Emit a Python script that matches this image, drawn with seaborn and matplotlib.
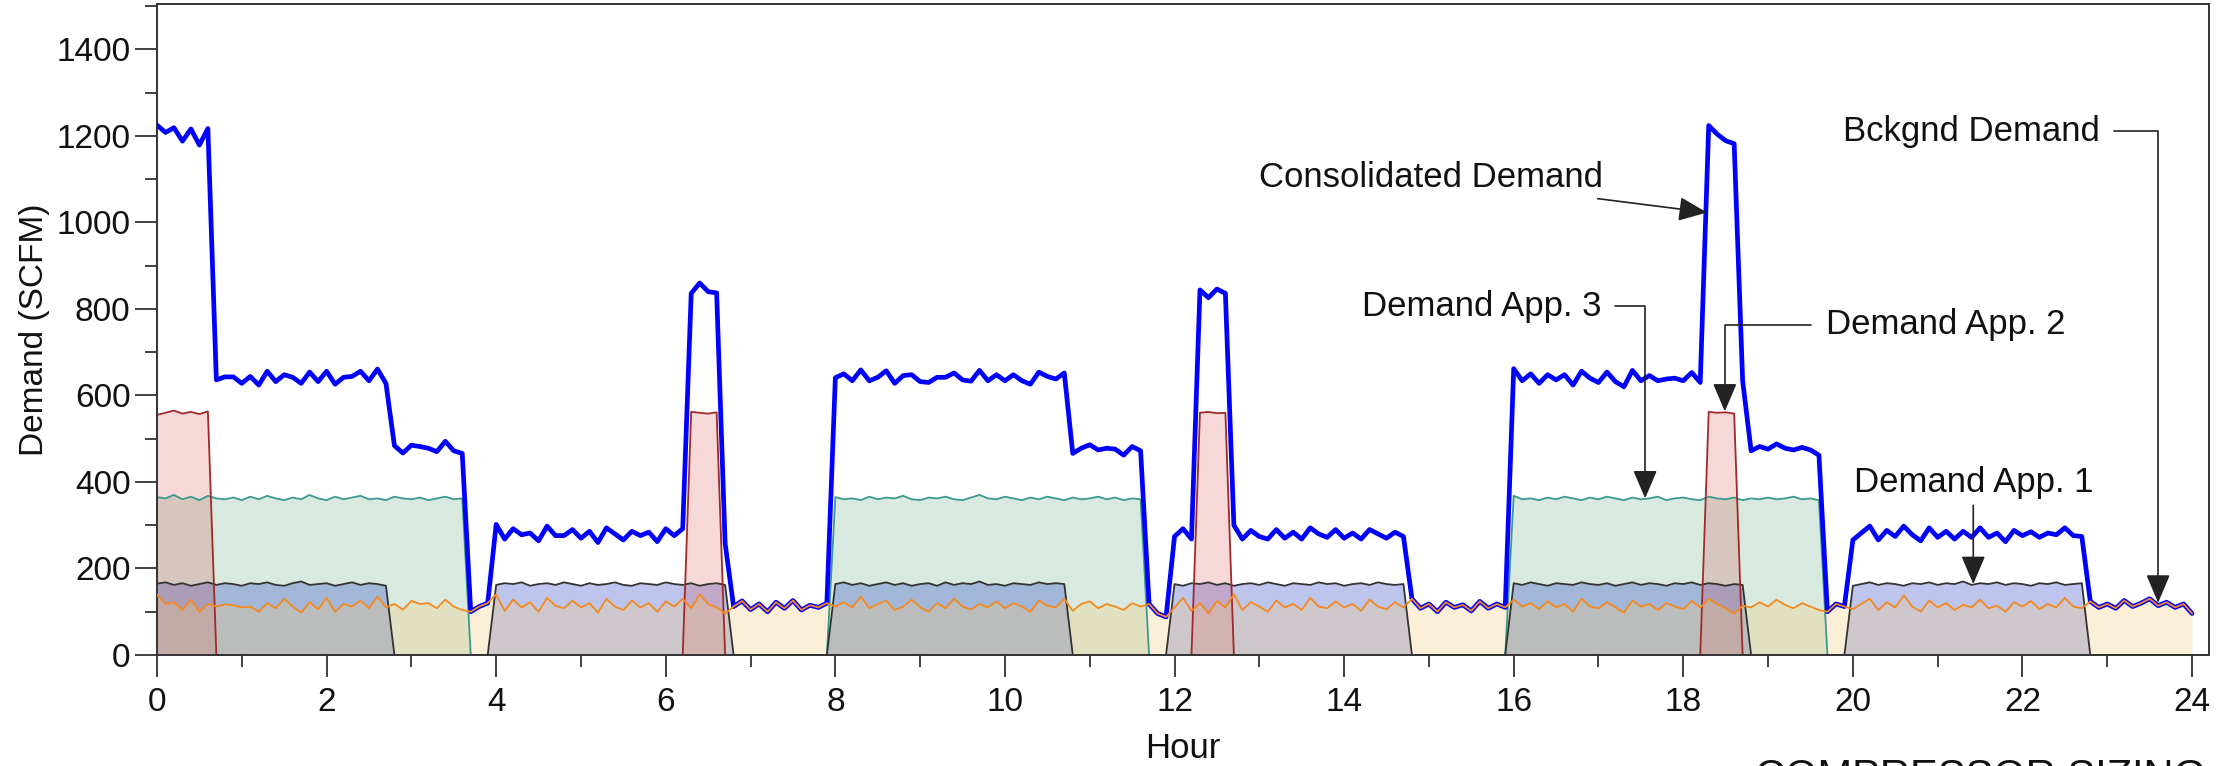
import numpy as np
import matplotlib
matplotlib.use("Agg")
import matplotlib.pyplot as plt
import seaborn as sns
from matplotlib.ticker import MultipleLocator

# ---------------- data (0.1 h sampling) ----------------
HOURS = np.round(np.arange(0, 24.05, 0.1), 1)

BCKGND = [
    140, 118, 122, 104, 128, 100, 118, 112, 117, 115,
    110, 112, 100, 120, 108, 130, 112, 98, 122, 106,
    132, 100, 118, 112, 126, 108, 135, 110, 118, 105,
    125, 118, 120, 108, 128, 112, 104, 100, 112, 120,
    140, 102, 128, 110, 122, 100, 132, 114, 108, 126,
    110, 120, 98, 130, 112, 104, 126, 110, 120, 100,
    124, 112, 130, 108, 140, 118, 110, 96, 112, 125,
    105, 118, 100, 122, 108, 126, 104, 115, 110, 120,
    112, 122, 110, 135, 108, 118, 125, 104, 112, 128,
    110, 100, 120, 108, 130, 112, 105, 118, 110, 124,
    108, 120, 112, 100, 126, 114, 110, 130, 102, 118,
    124, 108, 118, 112, 104, 120, 112, 118, 96, 88,
    110, 132, 102, 120, 96, 125, 110, 140, 104, 122,
    112, 100, 126, 110, 118, 104, 132, 112, 108, 124,
    110, 118, 102, 128, 112, 106, 122, 110, 130, 108,
    118, 100, 122, 110, 116, 102, 124, 108, 118, 110,
    128, 112, 120, 106, 124, 110, 118, 100, 130, 112,
    108, 122, 110, 98, 126, 112, 118, 104, 120, 112,
    106, 125, 110, 130, 118, 108, 96, 114, 110, 122,
    112, 128, 116, 108, 120, 112, 104, 100, 118, 112,
    106, 118, 130, 104, 122, 110, 138, 112, 100, 126,
    110, 120, 104, 116, 110, 128, 108, 114, 100, 122,
    112, 125, 106, 118, 110, 132, 112, 108, 124, 110,
    118, 108, 126, 112, 120, 130, 114, 122, 110, 118,
    96,
]

APP3 = [
    365, 362, 370, 360, 366, 358, 368, 362, 360, 364,
    358, 366, 360, 368, 362, 358, 364, 360, 370, 362,
    358, 366, 360, 364, 368, 360, 362, 358, 366, 362,
    360, 364, 358, 362, 366, 360, 362, 0, 0, 0,
    0, 0, 0, 0, 0, 0, 0, 0, 0, 0,
    0, 0, 0, 0, 0, 0, 0, 0, 0, 0,
    0, 0, 0, 0, 0, 0, 0, 0, 0, 0,
    0, 0, 0, 0, 0, 0, 0, 0, 0, 0,
    365, 360, 362, 358, 366, 360, 364, 362, 368, 360,
    358, 364, 362, 366, 360, 358, 364, 370, 362, 360,
    366, 362, 358, 364, 360, 366, 362, 358, 364, 360,
    362, 366, 360, 364, 358, 362, 360, 0, 0, 0,
    0, 0, 0, 0, 0, 0, 0, 0, 0, 0,
    0, 0, 0, 0, 0, 0, 0, 0, 0, 0,
    0, 0, 0, 0, 0, 0, 0, 0, 0, 0,
    0, 0, 0, 0, 0, 0, 0, 0, 0, 0,
    368, 360, 362, 358, 364, 360, 366, 362, 358, 364,
    360, 366, 362, 358, 364, 360, 362, 366, 358, 362,
    364, 360, 358, 366, 362, 360, 364, 358, 362, 360,
    364, 360, 362, 366, 360, 362, 358, 0, 0, 0,
    0, 0, 0, 0, 0, 0, 0, 0, 0, 0,
    0, 0, 0, 0, 0, 0, 0, 0, 0, 0,
    0, 0, 0, 0, 0, 0, 0, 0, 0, 0,
    0, 0, 0, 0, 0, 0, 0, 0, 0, 0,
    0,
]

APP1 = [
    165, 168, 162, 166, 160, 164, 168, 162, 166, 164,
    160, 166, 164, 168, 162, 160, 166, 170, 162, 164,
    166, 160, 164, 168, 162, 166, 164, 160, 0, 0,
    0, 0, 0, 0, 0, 0, 0, 0, 0, 0,
    162, 166, 164, 168, 160, 164, 166, 162, 168, 164,
    160, 166, 162, 164, 168, 162, 160, 166, 164, 162,
    168, 164, 162, 166, 160, 164, 166, 162, 0, 0,
    0, 0, 0, 0, 0, 0, 0, 0, 0, 0,
    164, 168, 162, 166, 160, 164, 168, 162, 166, 160,
    164, 166, 160, 168, 162, 166, 164, 170, 162, 164,
    160, 166, 164, 162, 168, 164, 166, 164, 0, 0,
    0, 0, 0, 0, 0, 0, 0, 0, 0, 0,
    164, 160, 166, 164, 168, 162, 166, 160, 164, 166,
    162, 168, 164, 160, 166, 164, 162, 168, 164, 166,
    160, 164, 166, 162, 168, 164, 162, 164, 0, 0,
    0, 0, 0, 0, 0, 0, 0, 0, 0, 0,
    166, 162, 168, 164, 160, 166, 164, 162, 168, 164,
    162, 166, 160, 164, 168, 162, 166, 164, 160, 166,
    164, 168, 162, 166, 164, 160, 164, 162, 0, 0,
    0, 0, 0, 0, 0, 0, 0, 0, 0, 0,
    160, 164, 168, 162, 166, 164, 160, 166, 164, 168,
    162, 166, 164, 170, 162, 166, 164, 168, 162, 166,
    164, 160, 166, 164, 168, 162, 164, 166, 0, 0,
    0, 0, 0, 0, 0, 0, 0, 0, 0, 0,
    0,
]

APP2 = [
    555, 560, 565, 558, 562, 557, 563, 0, 0, 0,
    0, 0, 0, 0, 0, 0, 0, 0, 0, 0,
    0, 0, 0, 0, 0, 0, 0, 0, 0, 0,
    0, 0, 0, 0, 0, 0, 0, 0, 0, 0,
    0, 0, 0, 0, 0, 0, 0, 0, 0, 0,
    0, 0, 0, 0, 0, 0, 0, 0, 0, 0,
    0, 0, 0, 562, 560, 558, 561, 0, 0, 0,
    0, 0, 0, 0, 0, 0, 0, 0, 0, 0,
    0, 0, 0, 0, 0, 0, 0, 0, 0, 0,
    0, 0, 0, 0, 0, 0, 0, 0, 0, 0,
    0, 0, 0, 0, 0, 0, 0, 0, 0, 0,
    0, 0, 0, 0, 0, 0, 0, 0, 0, 0,
    0, 0, 0, 560, 562, 559, 560, 0, 0, 0,
    0, 0, 0, 0, 0, 0, 0, 0, 0, 0,
    0, 0, 0, 0, 0, 0, 0, 0, 0, 0,
    0, 0, 0, 0, 0, 0, 0, 0, 0, 0,
    0, 0, 0, 0, 0, 0, 0, 0, 0, 0,
    0, 0, 0, 0, 0, 0, 0, 0, 0, 0,
    0, 0, 0, 562, 560, 561, 558, 0, 0, 0,
    0, 0, 0, 0, 0, 0, 0, 0, 0, 0,
    0, 0, 0, 0, 0, 0, 0, 0, 0, 0,
    0, 0, 0, 0, 0, 0, 0, 0, 0, 0,
    0, 0, 0, 0, 0, 0, 0, 0, 0, 0,
    0, 0, 0, 0, 0, 0, 0, 0, 0, 0,
    0,
]

X_TICKS = [0, 2, 4, 6, 8, 10, 12, 14, 16, 18, 20, 22, 24]
Y_TICKS = [0, 200, 400, 600, 800, 1000, 1200, 1400]

bg = np.array(BCKGND, dtype=float)
a1 = np.array(APP1, dtype=float)
a2 = np.array(APP2, dtype=float)
a3 = np.array(APP3, dtype=float)
consolidated = bg + a1 + a2 + a3   # consolidated demand = sum of all demands

# ---------------- figure ----------------
sns.set_style("ticks")
plt.rcParams['font.family'] = ['Liberation Sans', 'DejaVu Sans']

W, H = 2239, 766
fig = plt.figure(figsize=(W / 100, H / 100), dpi=100)
ax = fig.add_axes([157 / W, 1 - 655 / H, (2209 - 157) / W, (655 - 4) / H])

# fills
ax.fill_between(HOURS, 0, a3, color='#67af83', alpha=0.25, lw=0, zorder=1.0)
ax.fill_between(HOURS, 0, a1, color='#2641c6', alpha=0.30, lw=0, zorder=1.1)
ax.fill_between(HOURS, 0, a2, color='#d62728', alpha=0.18, lw=0, zorder=1.2)
ax.fill_between(HOURS, 0, bg, color='#f8cd80', alpha=0.30, lw=0, zorder=1.3)

# outlines
sns.lineplot(x=HOURS, y=a3, ax=ax, color='#3a9a8e', lw=1.3, zorder=2.0)
sns.lineplot(x=HOURS, y=a1, ax=ax, color='#333333', lw=1.3, zorder=2.1)
sns.lineplot(x=HOURS, y=a2, ax=ax, color='#9e2a2a', lw=1.3, zorder=2.2)
sns.lineplot(x=HOURS, y=consolidated, ax=ax, color='#0000ff', lw=3.4, zorder=3)
sns.lineplot(x=HOURS, y=bg, ax=ax, color='#f5891f', lw=1.3, zorder=4)

ax.set_xlim(0, 24.2)
ax.set_ylim(0, 1505)
ax.set_xticks(X_TICKS)
ax.set_yticks(Y_TICKS)
ax.xaxis.set_minor_locator(MultipleLocator(1))
ax.yaxis.set_minor_locator(MultipleLocator(100))
ax.tick_params(which='major', direction='out', length=16, width=1.3,
               color='#333333', labelsize=24, labelcolor='#111111')
ax.tick_params(axis='x', which='major', pad=7)
ax.tick_params(axis='y', which='major', pad=3)
ax.tick_params(which='minor', direction='out', length=8.5, width=1.3, color='#333333')
for s in ax.spines.values():
    s.set_color('#333333')
    s.set_linewidth(1.4)

ax.set_xlabel('Hour', fontsize=25, labelpad=10, color='#111111')
ax.set_ylabel('Demand (SCFM)', fontsize=24, labelpad=5, color='#111111')

arrow_kw = dict(arrowstyle='-|>,head_length=0.8,head_width=0.34',
                color='#222222', lw=1.2, mutation_scale=22, shrinkB=0)

ax.annotate('Consolidated Demand', xy=(18.28, 1023), xytext=(17.05, 1104),
            ha='right', va='center', fontsize=25, color='#111111',
            arrowprops=dict(arrow_kw, shrinkA=8, connectionstyle='arc3'))
ax.annotate('Bckgnd Demand', xy=(23.6, 121), xytext=(22.91, 1211),
            ha='right', va='center', fontsize=25, color='#111111',
            arrowprops=dict(arrow_kw, shrinkA=8,
                            connectionstyle='angle,angleA=0,angleB=90,rad=0'))
ax.annotate('Demand App. 3', xy=(17.55, 362), xytext=(17.03, 806),
            ha='right', va='center', fontsize=25, color='#111111',
            arrowprops=dict(arrow_kw, shrinkA=8,
                            connectionstyle='angle,angleA=0,angleB=90,rad=0'))
ax.annotate('Demand App. 2', xy=(18.49, 563), xytext=(19.68, 764),
            ha='left', va='center', fontsize=25, color='#111111',
            arrowprops=dict(arrow_kw, shrinkA=8,
                            connectionstyle='angle,angleA=0,angleB=90,rad=0'))
ax.annotate('Demand App. 1', xy=(21.42, 164), xytext=(21.42, 398),
            ha='center', va='center', fontsize=25, color='#111111',
            arrowprops=dict(arrow_kw, shrinkA=2, connectionstyle='arc3'))

# footer title, partly cut by the bottom edge as in the reference
fig.text(1755 / W, 8 / H, 'COMPRESSOR SIZING', ha='left', va='top',
         fontsize=30, color='#111111')

fig.savefig('out.png', dpi=100)
